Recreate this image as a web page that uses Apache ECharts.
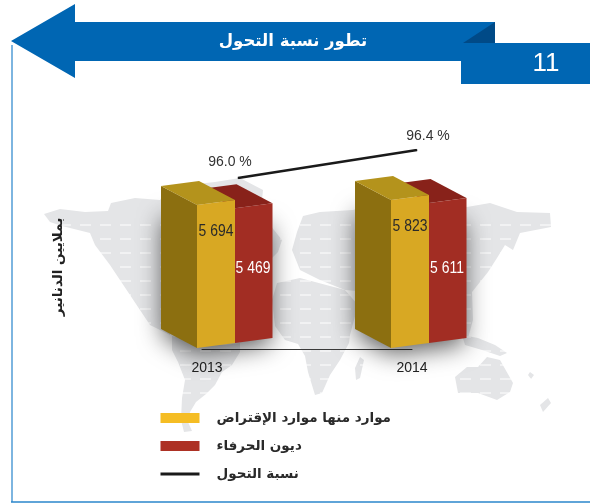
<!DOCTYPE html>
<html>
<head>
<meta charset="utf-8">
<script src="https://cdn.jsdelivr.net/npm/echarts@6/dist/echarts.min.js"></script>
<style>
  html, body { margin: 0; padding: 0; background: #fff; }
  #chart { width: 590px; height: 503px; }
</style>
</head>
<body>
<div id="chart"></div>
<script>
// data
const years = ["2013", "2014"];
const resources = [5694, 5823];
const deposits = [5469, 5611];
const ratio = [96.0, 96.4];

const resourcesName = "موارد منها موارد الإقتراض";
const depositsName = "ديون الحرفاء";
const ratioName = "نسبة التحول";
const unitName = "بملايين الدنانير";
const titleText = "تطور نسبة التحول";
const pageNo = "11";

const latin = '"Liberation Sans", sans-serif';
const arabic = '"DejaVu Sans", "Noto Sans", sans-serif';

// 3d look of the columns, in pixels
const depthX = -36, depthY = -19;
const skew = -5;
const frontW = 38;

function face(points, color) {
  return { type: "polygon", shape: { points: points }, style: { fill: color } };
}

function spaced(v) {
  return String(v).replace(/(\d)(\d{3})$/, "$1 $2");
}

function renderYellow(params, api) {
  const base = api.coord([api.value(0), 1860]);
  const top = api.coord([api.value(0), api.value(1)]);
  const x = base[0], yb = base[1], yt = top[1];
  return {
    type: "group",
    children: [
      face([[x, yt], [x, yb], [x + depthX, yb + depthY], [x + depthX, yt + depthY]], "#8c6f10"),
      face([[x, yt], [x + frontW, yt + skew], [x + frontW + depthX, yt + skew + depthY], [x + depthX, yt + depthY]], "#b4931c"),
      face([[x, yt], [x + frontW, yt + skew], [x + frontW, yb + skew], [x, yb]], "#d8a823"),
      {
        type: "text",
        x: x + 19,
        y: yt + 27,
        scaleX: 0.87,
        style: { text: spaced(api.value(1)), fill: "#2a2a2a", font: "16px " + latin, align: "center", verticalAlign: "middle" }
      }
    ]
  };
}

function renderRed(params, api) {
  const base = api.coord([api.value(0), 1860]);
  const top = api.coord([api.value(0), api.value(1)]);
  const x = base[0] + frontW, yb = base[1] + skew, yt = top[1] + skew;
  const w = 37.5;
  return {
    type: "group",
    children: [
      face([[x, yt], [x + w, yt + skew], [x + w + depthX, yt + skew + depthY], [x + depthX, yt + depthY]], "#88221a"),
      face([[x, yt], [x + w, yt + skew], [x + w, yb + skew], [x, yb]], "#a22d23"),
      {
        type: "text",
        x: x + 18,
        y: yb - 74,
        scaleX: 0.87,
        style: { text: spaced(api.value(1)), fill: "#fff", font: "16px " + latin, align: "center", verticalAlign: "middle" }
      }
    ]
  };
}

// soft shadow under the whole column, kept inside the silhouette at the top
function renderShadow(params, api) {
  const base = api.coord([api.value(0), 1860]);
  const top = api.coord([api.value(0), api.value(1)]);
  const x = base[0], yb = base[1], yt = top[1];
  return {
    type: "polygon",
    shape: {
      points: [[x + depthX + 2, yt + 5], [x + 73, yt + 14], [x + 73, yb - 12], [x, yb - 2], [x + depthX + 2, yb + depthY - 1]]
    },
    style: {
      fill: "#777",
      shadowColor: "rgba(0,0,0,0.65)",
      shadowBlur: 24,
      shadowOffsetX: 0,
      shadowOffsetY: 8
    }
  };
}

// background decoration only: the pale world map, rough outlines in pixels
const mapColor = "#e4e5e7";
const continents = [
  // north america
  [[44,214],[60,209],[85,212],[108,211],[111,203],[135,198],[160,200],[172,186],[196,184],[215,182],[240,178],[263,190],[262,200],[270,225],[282,240],[278,252],[268,262],[250,272],[245,290],[210,300],[190,305],[172,320],[170,335],[150,325],[130,295],[110,265],[95,245],[90,233],[62,226],[50,222]],
  // south america
  [[172,336],[190,340],[205,345],[225,345],[240,343],[240,352],[232,365],[222,372],[215,385],[206,394],[196,402],[190,412],[188,422],[192,431],[184,432],[181,420],[182,398],[185,380],[178,362],[172,350]],
  // europe and asia
  [[297,232],[303,216],[320,212],[353,210],[400,195],[467,207],[490,203],[517,212],[550,213],[551,227],[520,233],[513,250],[505,245],[497,258],[488,272],[480,282],[472,292],[473,320],[468,338],[452,330],[440,320],[420,300],[400,310],[385,300],[370,292],[345,290],[320,280],[300,270],[292,250]],
  // africa
  [[277,283],[300,278],[345,290],[358,305],[350,335],[349,343],[340,360],[330,375],[322,393],[315,395],[308,372],[305,356],[298,344],[285,340],[275,326],[272,300]],
  // madagascar
  [[360,357],[364,360],[360,378],[356,380],[355,368]],
  // islands south east asia
  [[462,335],[478,338],[495,345],[507,353],[500,356],[482,350],[465,345]],
  // australia
  [[455,377],[467,367],[478,367],[487,357],[500,360],[513,383],[510,392],[497,400],[478,393],[458,393]],
  // small ones
  [[530,372],[534,375],[531,379],[528,375]],
  [[540,405],[548,398],[551,403],[543,412]]
];

const dashRows = [225, 239, 253, 267, 281, 295, 309, 323, 337, 351, 365, 379, 393];

const graphics = [];
continents.forEach(function (pts) {
  graphics.push({ type: "polygon", z: 0, shape: { points: pts }, style: { fill: mapColor } });
});
dashRows.forEach(function (y) {
  graphics.push({
    type: "line", z: 0,
    shape: { x1: 40, y1: y, x2: 560, y2: y },
    style: { stroke: "#fff", lineWidth: 1, lineDash: [11, 9] }
  });
});
graphics.push(
  // frame
  { type: "line", z: 1, shape: { x1: 12, y1: 45, x2: 12, y2: 502 }, style: { stroke: "#7db5e0", lineWidth: 2 } },
  { type: "line", z: 1, shape: { x1: 11, y1: 502, x2: 590, y2: 502 }, style: { stroke: "#2a86cb", lineWidth: 1.5 } },
  // header arrow and number box
  { type: "polygon", z: 3, shape: { points: [[11, 41], [75, 4], [75, 22], [495, 22], [495, 61], [75, 61], [75, 78]] }, style: { fill: "#0066b3" } },
  { type: "rect", z: 3, shape: { x: 461, y: 43, width: 129, height: 41 }, style: { fill: "#0066b3" } },
  { type: "polygon", z: 3, shape: { points: [[463, 43], [495, 22], [495, 43]] }, style: { fill: "#004a87" } },
  { type: "text", z: 7, x: 546, y: 64, style: { text: pageNo, fill: "#fff", font: "26px " + latin, align: "center", verticalAlign: "middle" } }
);

const option = {
  animation: false,
  backgroundColor: "#fff",
  title: {
    text: titleText,
    left: 288,
    top: 28,
    textAlign: "center",
    textStyle: { color: "#fff", fontFamily: arabic, fontWeight: "bold", fontSize: 16.5 }
  },
  legend: {
    orient: "vertical",
    left: 159,
    top: 411,
    height: 90,
    padding: 0,
    itemWidth: 39,
    itemHeight: 10,
    itemGap: 14,
    selectedMode: false,
    textStyle: { fontFamily: arabic, fontWeight: "bold", fontSize: 13.5, color: "#2a2a2a", padding: [0, 0, 0, 12] },
    data: [
      { name: resourcesName, icon: "rect", itemStyle: { color: "#f5bd24" } },
      { name: depositsName, icon: "rect", itemStyle: { color: "#ad3124" } },
      { name: ratioName, itemStyle: { opacity: 0 }, lineStyle: { color: "#1a1a1a", width: 3 } }
    ]
  },
  grid: [
    // columns
    { left: 197, top: 186, width: 194, height: 162 },
    // ratio line
    { left: 238, top: 150, width: 179, height: 28 },
    // year labels and base line
    { left: 202, top: 186, width: 210, height: 163 }
  ],
  xAxis: [
    { type: "category", gridIndex: 0, data: years, boundaryGap: false, show: false },
    { type: "category", gridIndex: 1, data: years, boundaryGap: false, show: false },
    {
      type: "category", gridIndex: 2, data: years, boundaryGap: false,
      axisLine: { lineStyle: { color: "#3a3a3a", width: 1 } },
      axisTick: { show: false },
      axisLabel: {
        margin: 12,
        color: "#222",
        fontFamily: latin,
        fontSize: 14,
        interval: 0,
        formatter: function (v, i) { return i === 0 ? "{a|" + v + "}" : v; },
        rich: { a: { padding: [0, 0, 0, 10], color: "#222", fontFamily: latin, fontSize: 14 } }
      }
    }
  ],
  yAxis: [
    {
      type: "value", gridIndex: 0, min: 1860, max: 6200,
      name: unitName,
      nameLocation: "middle",
      nameRotate: 90,
      nameGap: 132,
      nameTextStyle: { fontFamily: arabic, fontWeight: "bold", fontSize: 13.5, color: "#222" },
      axisLine: { show: false }, axisTick: { show: false }, axisLabel: { show: false }, splitLine: { show: false }
    },
    { type: "value", gridIndex: 1, min: 96.0, max: 96.4, show: false, splitLine: { show: false } },
    { type: "value", gridIndex: 2, show: false, splitLine: { show: false } }
  ],
  graphic: { elements: graphics },
  series: [
    {
      name: "shadow",
      type: "custom",
      silent: true,
      xAxisIndex: 0, yAxisIndex: 0,
      z: 1,
      renderItem: renderShadow,
      data: resources.map(function (v, i) { return [i, v]; })
    },
    {
      name: depositsName,
      type: "custom",
      xAxisIndex: 0, yAxisIndex: 0,
      z: 2,
      itemStyle: { color: "#ad3124" },
      renderItem: renderRed,
      data: deposits.map(function (v, i) { return [i, v]; })
    },
    {
      name: resourcesName,
      type: "custom",
      xAxisIndex: 0, yAxisIndex: 0,
      z: 3,
      itemStyle: { color: "#f5bd24" },
      renderItem: renderYellow,
      data: resources.map(function (v, i) { return [i, v]; })
    },
    {
      name: ratioName,
      type: "line",
      xAxisIndex: 1, yAxisIndex: 1,
      z: 4,
      symbol: "circle",
      symbolSize: 1,
      lineStyle: { color: "#1a1a1a", width: 2.5 },
      itemStyle: { color: "#1a1a1a" },
      label: {
        show: true,
        position: "top",
        color: "#333",
        fontFamily: latin,
        fontSize: 14,
        formatter: function (p) { return p.value.toFixed(1) + " %"; }
      },
      data: [
        { value: ratio[0], label: { offset: [-8, -3] } },
        { value: ratio[1], label: { offset: [11, -1] } }
      ]
    },
    // empty series keeps the label axis alive
    { type: "line", xAxisIndex: 2, yAxisIndex: 2, data: [], silent: true }
  ]
};

const myChart = echarts.init(document.getElementById("chart"));
myChart.setOption(option);
</script>
</body>
</html>
